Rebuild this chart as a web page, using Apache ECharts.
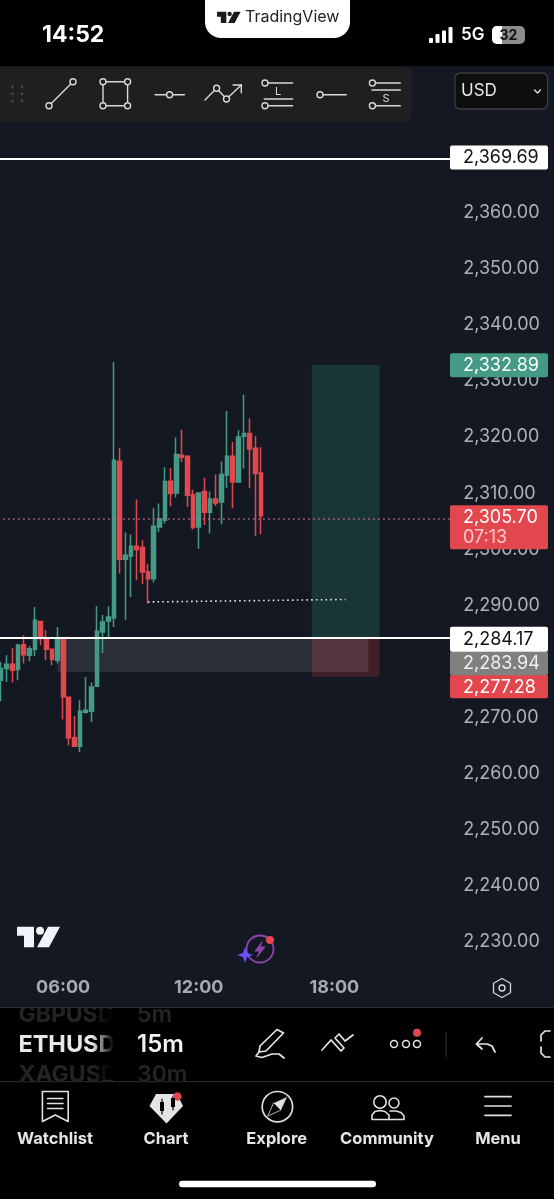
<!DOCTYPE html>
<html>
<head>
<meta charset="utf-8">
<title>ETHUSD 15m</title>
<style>html,body{margin:0;padding:0;background:#000}#main{width:554px;height:1199px}</style>
<script src="https://cdn.jsdelivr.net/npm/echarts@6/dist/echarts.min.js"></script>
</head>
<body>
<div id="main"></div>
<script>
// 15m candles, starts 03:15
const times = ['03:15','03:30','03:45','04:00','04:15','04:30','04:45','05:00','05:15','05:30','05:45','06:00',
  '06:15','06:30','06:45','07:00','07:15','07:30','07:45','08:00','08:15','08:30','08:45','09:00',
  '09:15','09:30','09:45','10:00','10:15','10:30','10:45','11:00','11:15','11:30','11:45','12:00',
  '12:15','12:30','12:45','13:00','13:15','13:30','13:45','14:00','14:15','14:30','14:45','15:00',
  '15:15','15:30','15:45','16:00','16:15','16:30','16:45','17:00','17:15','17:30','17:45','18:00',
  '18:15','18:30','18:45','19:00','19:15','19:30','19:45','20:00','20:15','20:30','20:45','21:00',
  '21:15','21:30','21:45','22:00','22:15','22:30','22:45','23:00'];
const opens = [2276.37,2278.45,2279.22,2278.27,2282.72,2280.82,2281.89,2286.83,2283.80,2281.89,2279.93,2283.91,
  2273.33,2266.14,2264.60,2270.66,2270.84,2275.30,2284.98,2286.95,2287.48,2315.42,2297.94,2298.54,
  2300.26,2300.02,2295.74,2294.49,2303.71,2304.90,2311.85,2309.77,2316.49,2316.31,2309.47,2303.71,
  2310.01,2306.32,2308.70,2308.17,2312.98,2316.31,2311.73,2319.87,2320.35,2317.73,2313.34];
const closes = [2278.45,2279.22,2278.15,2282.61,2280.94,2282.01,2287.06,2283.80,2281.89,2280.11,2283.91,2273.39,
  2266.14,2264.60,2270.84,2271.02,2275.18,2285.10,2286.77,2287.66,2315.60,2297.94,2298.66,2300.26,
  2299.67,2295.68,2294.49,2303.83,2305.19,2311.79,2309.65,2316.61,2316.13,2309.35,2303.59,2309.77,
  2306.32,2308.70,2307.99,2313.04,2316.31,2311.73,2319.76,2320.35,2317.62,2313.22,2305.70];
const lows = [2272.62,2276.07,2275.95,2276.37,2279.34,2279.75,2280.65,2282.61,2279.93,2279.04,2279.34,2269.35,
  2264.77,2264.48,2263.59,2270.42,2268.94,2275.30,2281.24,2283.80,2285.88,2295.39,2287.18,2291.23,
  2294.20,2293.48,2290.04,2293.78,2302.82,2304.30,2307.39,2308.94,2315.24,2307.27,2303.23,2299.84,
  2304.06,2302.52,2307.45,2304.18,2310.60,2307.04,2311.73,2314.11,2310.60,2302.10,2302.40];
const highs = [2279.64,2280.82,2282.13,2282.90,2284.39,2282.43,2289.44,2286.83,2285.28,2281.89,2285.88,2283.91,
  2273.33,2270.01,2272.80,2276.96,2275.95,2289.56,2288.07,2289.56,2333.13,2317.85,2302.70,2302.34,
  2308.58,2301.33,2297.11,2307.10,2307.87,2314.41,2314.23,2319.64,2321.06,2316.31,2310.36,2309.77,
  2312.50,2310.01,2313.04,2315.36,2324.39,2318.86,2320.94,2327.30,2323.03,2319.93,2317.91];

const yTicks = [2360,2350,2340,2330,2320,2310,2300,2290,2280,2270,2260,2250,2240,2230];
const timeTicks = ['06:00','12:00','18:00'];

const upperLevel = 2369.69;
const entryLevel = 2284.17;
const lastPrice = 2305.70;
const lastPriceLine = 2305.4;
const targetPrice = 2332.89;
const markPrice = 2283.94;
const stopPrice = 2277.28;
const grayZoneBottom = 2278.1;
const trendFrom = ['09:45', 2290.6];
const trendTo = ['18:30', 2291.05];
const boxLeft = 54.7;
const boxRight = '20:00';
const grayLeft = '05:45';
const grayRight = '19:30';

// candle values were read against the label centres, the scale itself sits about 1.5px lower
const readBias = 0.27;

const green = '#449a85';
const red = '#e2474e';
const chartBg = '#141823';

const chart = echarts.init(document.getElementById('main'));

function fmt(v) {
  return v.toFixed(2).replace(/^(\d)(\d{3})/, '$1,$2');
}

chart.setOption({
  animation: false,
  backgroundColor: '#000',
  grid: { right: 103.8, top: 100.6, width: 452, height: 897.3, outerBoundsMode: 'none' },
  xAxis: {
    type: 'category',
    data: times,
    axisLine: { show: false },
    axisTick: { show: false },
    splitLine: { show: false },
    axisLabel: {
      inside: true,
      margin: 1,
      interval: (i, v) => timeTicks.includes(v),
      color: '#a6a9b1',
      fontFamily: 'Inter',
      fontWeight: 700,
      fontSize: 18
    }
  },
  yAxis: {
    type: 'value',
    position: 'right',
    min: 2220,
    max: 2380,
    interval: 10,
    axisLine: { show: false },
    axisTick: { show: false },
    splitLine: { show: false },
    axisLabel: {
      margin: 13,
      color: '#aeb1ba',
      fontFamily: 'Inter',
      fontSize: 18,
      formatter: v => yTicks.includes(v) ? fmt(v) : ''
    }
  },
  series: [{
    type: 'candlestick',
    barWidth: 4.2,
    silent: true,
    data: opens.map((o, i) => [o + readBias, closes[i] + readBias, lows[i] + readBias, highs[i] + readBias]),
    itemStyle: { color: green, color0: red, borderColor: green, borderColor0: red, borderWidth: 1.5 },
    markArea: {
      silent: true,
      data: [
        [{ coord: [boxLeft, entryLevel], itemStyle: { color: 'rgba(40,140,120,0.25)' } }, { coord: [boxRight, targetPrice] }],
        [{ coord: [boxLeft, stopPrice], itemStyle: { color: 'rgba(200,50,60,0.25)' } }, { coord: [boxRight, entryLevel] }],
        [{ coord: [grayLeft, grayZoneBottom], itemStyle: { color: 'rgba(255,255,255,0.1)' } }, { coord: [grayRight, entryLevel] }]
      ]
    },
    markLine: {
      silent: true,
      symbol: 'none',
      label: { show: false },
      data: [
        { yAxis: upperLevel, lineStyle: { color: '#fff', width: 2, type: 'solid' } },
        { yAxis: entryLevel, lineStyle: { color: '#fff', width: 2, type: 'solid' } },
        { yAxis: lastPriceLine, lineStyle: { color: '#c56a95', width: 1.5, type: [1.5, 3.5] } },
        [{ coord: trendFrom, lineStyle: { color: '#e8e8e8', width: 1.6, type: [1.6, 3.2] } }, { coord: trendTo }]
      ]
    }
  }]
});

// ---- chrome + price tags, drawn with graphic elements
const g = [];
function rect(x, y, w, h, fill, r, stroke, z) {
  g.push({ type: 'rect', z: z || 50, shape: { x, y, width: w, height: h, r: r || 0 }, style: { fill, stroke: stroke || null, lineWidth: 1.3 } });
}
function line(x1, y1, x2, y2, color, w) {
  g.push({ type: 'line', z: 52, shape: { x1, y1, x2, y2 }, style: { stroke: color || '#d8d8d8', lineWidth: w || 1.4, lineCap: 'round' } });
}
function circ(cx, cy, r, stroke, fill, w) {
  g.push({ type: 'circle', z: 52, shape: { cx, cy, r }, style: { stroke: stroke || null, fill: fill || 'none', lineWidth: w || 1.4 } });
}
function poly(points, color, w, fill, closed) {
  g.push({ type: closed ? 'polygon' : 'polyline', z: 52, shape: { points }, style: { stroke: color || null, lineWidth: w || 1.4, fill: fill || 'none', lineJoin: 'round', lineCap: 'round' } });
}
function txt(text, x, y, font, fill, align, z) {
  g.push({ type: 'text', z: z || 53, style: { text, x, y, font, fill, textAlign: align || 'left', textVerticalAlign: 'middle', align: align || 'left', verticalAlign: 'middle' } });
}
function tvLogo(x, y, s, color) {
  // s = scale of the 43x20.6 logo
  poly([[x, y], [x + 17 * s, y], [x + 17 * s, y + 20.6 * s], [x + 7 * s, y + 20.6 * s], [x + 7 * s, y + 9 * s], [x, y + 9 * s]], null, 0, color, true);
  circ(x + 23 * s, y + 4 * s, 4 * s, null, color);
  poly([[x + 31 * s, y], [x + 43 * s, y], [x + 32 * s, y + 20.6 * s], [x + 20 * s, y + 20.6 * s]], null, 0, color, true);
}

// chart background, under the series
g.push({ type: 'rect', z: -1, shape: { x: 0, y: 66, width: 554, height: 942 }, style: { fill: chartBg } });

// status bar
txt('14:52', 42, 35.5, '700 23px Inter', '#fff');
rect(205, -20, 145, 58, '#fff', 16);
tvLogo(217, 11.7, 0.55, '#1a1a1a');
txt('TradingView', 245, 17.5, '400 16px Inter', '#222');
[[429, 38, 5], [435.5, 34, 9], [442, 30.5, 12.5], [448.5, 27, 16]].forEach(b => rect(b[0], b[1], 4, b[2], '#fff', 1));
txt('5G', 461, 35, '600 17px Inter', '#fff');
rect(492, 26, 33, 18, '#8c8c8c', 5);
g.push({ type: 'rect', z: 51, shape: { x: 492, y: 26, width: 10, height: 18, r: [5, 0, 0, 5] }, style: { fill: '#fff' } });
txt('32', 508.5, 35.5, '700 14px Inter', '#111', 'center');

// drawing toolbar
g.push({ type: 'rect', z: 50, shape: { x: -8, y: 67, width: 419.5, height: 55, r: 7 }, style: { fill: '#1f1f1f' } });
[12.4, 21.9].forEach(x => [86.7, 93.7, 100.7].forEach(y => circ(x, y, 1.3, null, '#4a4a4a')));
const ic = '#d8d8d8', icFill = '#1f1f1f';
line(49, 105.7, 73, 81.7, ic);
circ(49, 105.7, 3, ic, icFill); circ(73, 81.7, 3, ic, icFill);
line(103, 81.7, 127.6, 81.7, ic); line(103, 105.7, 127.6, 105.7, ic);
line(103, 81.7, 103, 105.7, ic); line(127.6, 81.7, 127.6, 105.7, ic);
[[103, 81.7], [127.6, 81.7], [103, 105.7], [127.6, 105.7]].forEach(p => circ(p[0], p[1], 3, ic, icFill));
line(155, 94.7, 184.5, 94.7, ic); circ(169.6, 94.7, 3, ic, icFill);
poly([[205, 100], [216.6, 88.3], [226.5, 99], [241.3, 85]], ic);
line(233, 85, 241.3, 85, ic); line(241.3, 85, 241.3, 92.7, ic);
circ(216.6, 88.3, 3, ic, icFill); circ(226.5, 99, 3, ic, icFill);
line(265, 83, 292.6, 83, ic); circ(265, 83, 3, ic, icFill);
line(264.3, 99, 292.6, 99, ic); txt('L', 278, 91.5, '400 11px Inter', ic, 'center');
line(265, 105.7, 292.6, 105.7, ic); circ(265, 105.7, 3, ic, icFill);
line(320, 94.7, 346.3, 94.7, ic); circ(320, 94.7, 3, ic, icFill);
line(372.4, 83, 400.3, 83, ic); circ(372.4, 83, 3, ic, icFill);
line(372, 90, 400.3, 90, ic); txt('S', 386, 98.3, '400 11px Inter', ic, 'center');
line(372.4, 105.7, 400.3, 105.7, ic); circ(372.4, 105.7, 3, ic, icFill);

// currency box
rect(455, 73, 92.5, 36, '#0e0e0e', 5, '#3a3d44');
txt('USD', 461, 91, '400 17px Inter', '#e6e6e6');
poly([[534.5, 90], [537.5, 93], [540.5, 90]], '#e6e6e6', 1.3);

// overlays on the chart
tvLogo(17, 926.7, 1, '#f0f3fa');
circ(260, 949, 13.5, '#8e44ad', 'none', 1.8);
poly([[262, 942], [255, 951], [260, 951], [257, 957], [265, 947], [260, 947]], '#8e44ad', 1, '#8e44ad', true);
poly([[245, 947], [247, 953], [253, 955], [247, 957], [245, 963], [243, 957], [237, 955], [243, 953]], null, 0, '#6a50ff', true);
circ(270, 940, 4, null, '#e2474e');
poly([[502, 978.5], [510.5, 983.2], [510.5, 992.8], [502, 997.5], [493.5, 992.8], [493.5, 983.2]], '#d4d6dc', 1.3, 'none', true);
circ(502, 988, 3, '#d4d6dc');

// bottom panel
rect(0, 1007.5, 554, 192, '#000', 0, null, 30);
line(0, 1007.5, 554, 1007.5, '#2c2e33', 1);
txt('GBPUSD', 18.4, 1015, '700 23px Inter', '#242424', 'left', 31);
txt('5m', 137, 1015, '600 23px Inter', '#242424', 'left', 31);
txt('XAGUSD', 18.4, 1075, '700 23px Inter', '#242424', 'left', 31);
txt('30m', 137, 1075, '600 23px Inter', '#242424', 'left', 31);
txt('ETHUSD', 18.4, 1045, '700 23.5px Inter', '#e8e8e8', 'left', 31);
txt('15m', 137, 1045, '600 24px Inter', '#f0f0f0', 'left', 33);
g.push({ type: 'rect', z: 32, shape: { x: 92, y: 1009, width: 22, height: 71 }, style: { fill: { type: 'linear', x: 0, y: 0, x2: 1, y2: 0, colorStops: [{ offset: 0, color: 'rgba(0,0,0,0)' }, { offset: 1, color: '#000' }] } } });
rect(114, 1009, 21, 71, '#000', 0, null, 32);
rect(0, 1081, 554, 118, '#000', 0, null, 32);
rect(0, 998, 554, 9.5, chartBg, 0, null, 33);
line(0, 1081.7, 554, 1081.7, '#2c2e33', 1);

// tool row
const tc = '#e6e6e6';
poly([[277, 1029.5], [283.5, 1033], [266, 1051], [259, 1052], [260, 1046]], tc, 1.7, 'none', true);
poly([[259, 1052], [256, 1056], [262, 1057.5], [272, 1054], [279, 1054], [284, 1058]], tc, 1.7);
poly([[322, 1050], [331, 1040], [341, 1051], [344, 1048], [335, 1038], [339, 1034], [345, 1041], [353, 1035]], tc, 1.7);
[394, 406, 417].forEach(x => circ(x, 1044, 3.5, tc, '#000', 1.5));
circ(417, 1032.7, 4, null, red);
line(446, 1032, 446, 1056.5, '#2c2e33', 1.2);
poly([[482, 1038], [476.5, 1044], [482, 1049]], tc, 1.7);
poly([[476.5, 1044], [487, 1044], [492, 1046], [495, 1052]], tc, 1.7);
poly([[550, 1031], [545, 1031], [541, 1035], [541, 1041]], tc, 1.7);
poly([[550, 1057], [545, 1057], [541, 1053], [541, 1047]], tc, 1.7);

// nav bar
const nc = '#e0e0e0';
poly([[42.4, 1091.5], [68.2, 1091.5], [68.2, 1121.5], [55.3, 1115], [42.4, 1121.5]], nc, 1.6, 'none', true);
[1098.5, 1103.5, 1108.5].forEach(y => line(47.5, y, 63, y, nc, 1.5));
poly([[156, 1094], [177, 1094], [183, 1106], [166.5, 1123.5], [149.5, 1106]], null, 0, '#e4e4e4', true);
rect(160, 1102, 4, 9, '#000', 0, null, 53); rect(171, 1098, 4, 9, '#000', 0, null, 53);
line(162, 1099, 162, 1114, '#000', 1.2); line(173, 1096, 173, 1110, '#000', 1.2);
circ(177.4, 1096.5, 4.2, null, red);
circ(277.4, 1106.7, 15.2, nc, 'none', 1.7);
poly([[287, 1097], [281, 1110], [274, 1103]], null, 0, nc, true);
poly([[268, 1116], [281, 1110], [274, 1103]], nc, 0.8, 'none', true);
circ(380, 1102, 6.2, nc, 'none', 1.6);
circ(394, 1103, 5, nc, 'none', 1.6);
poly([[372, 1119.5], [372, 1115], [375, 1111.5], [380, 1110.5], [385, 1111.5], [389, 1115], [389, 1119.5]], nc, 1.6, 'none', true);
poly([[390, 1111], [396, 1111], [401, 1112.5], [404, 1116], [404, 1119.5], [389, 1119.5]], nc, 1.6);
[1096.7, 1106, 1115.3].forEach(y => line(485, y, 511, y, nc, 1.7));
[['Watchlist', 55], ['Chart', 166], ['Explore', 276.7], ['Community', 387], ['Menu', 498]].forEach(t => {
  txt(t[0], t[1], 1139.5, '700 16.5px Inter', '#e6e6e6', 'center');
});
rect(179, 1180.7, 197, 6.5, '#fff', 3.2);

// price tags: tied to the y axis, with the shift the app uses when they crowd
const tagX = 450, tagW = 98;
function tag(value, shift, fill, color, h, text2) {
  const y = chart.convertToPixel({ yAxisIndex: 0 }, value) + shift;
  const top = y - 12;
  rect(tagX, top, tagW, h, fill, 2, null, 60);
  txt(fmt(value), 463, y + 0.5, '400 18px Inter', color, 'left', 61);
  if (text2) txt(text2, 463, y + 20, '400 18px Inter', 'rgba(255,255,255,0.72)', 'left', 61);
}
tag(upperLevel, -1, '#fff', '#111', 24);
tag(targetPrice, 0.5, green, '#fff', 24);
tag(lastPrice, 0, red, '#fff', 44, '07:13');
tag(stopPrice, 10, red, '#fff', 23.5);
tag(markPrice, 24, '#808080', '#eee', 24);
tag(entryLevel, 0.7, '#fff', '#111', 25);

chart.setOption({ graphic: { elements: g } });
</script>
</body>
</html>
